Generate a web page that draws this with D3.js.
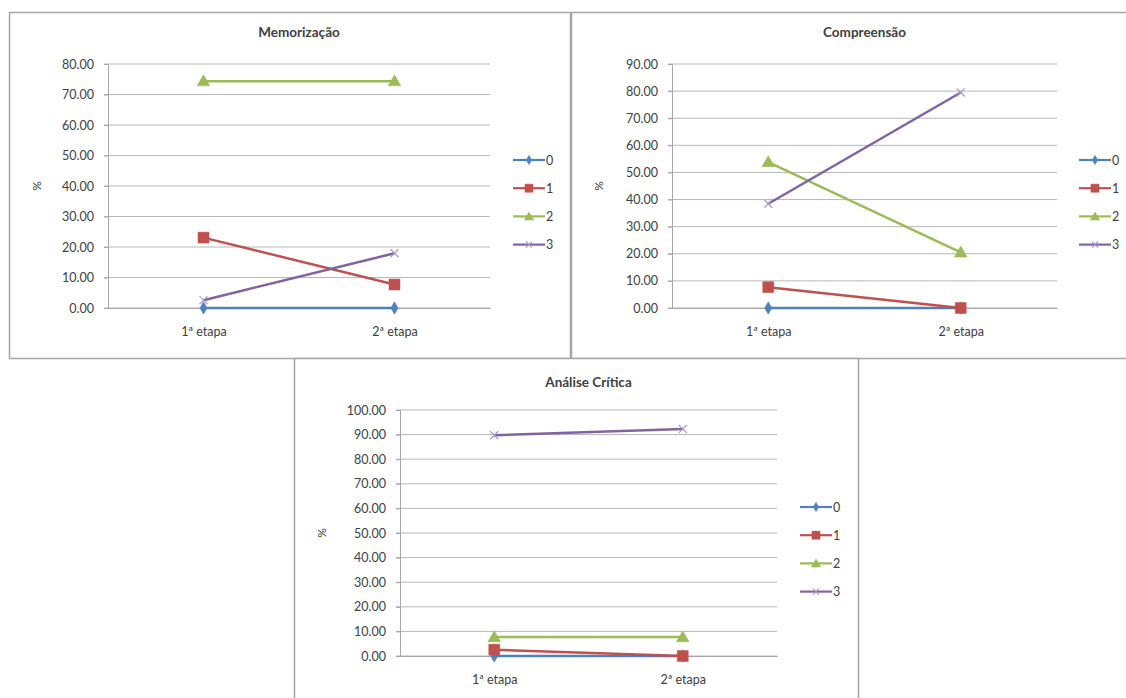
<!DOCTYPE html>
<html>
<head>
<meta charset="utf-8">
<script src="https://cdn.jsdelivr.net/npm/d3@7"></script>
<style>
  body { margin: 0; background: #fff; }
  svg { display: block; }
  text { font-family: Lato, "Open Sans", "Liberation Sans", sans-serif; fill: #404040; }
</style>
</head>
<body>
<svg id="chart" width="1126" height="698"></svg>
<script>
// ---- DATA ----
const categories = ["1ª etapa", "2ª etapa"];
const seriesNames = ["0", "1", "2", "3"];

const memoTitle = "Memorização";
const memoTicks = [0, 10, 20, 30, 40, 50, 60, 70, 80];
const memo0 = [0, 0];
const memo1 = [23.08, 7.69];
const memo2 = [74.36, 74.36];
const memo3 = [2.56, 17.95];

const compTitle = "Compreensão";
const compTicks = [0, 10, 20, 30, 40, 50, 60, 70, 80, 90];
const comp0 = [0, 0];
const comp1 = [7.69, 0];
const comp2 = [53.85, 20.51];
const comp3 = [38.46, 79.49];

const anaTitle = "Análise Crítica";
const anaTicks = [0, 10, 20, 30, 40, 50, 60, 70, 80, 90, 100];
const ana0 = [0, 0];
const ana1 = [2.56, 0];
const ana2 = [7.69, 7.69];
const ana3 = [89.74, 92.31];

const yLabel = "%";

// ---- STYLE / LAYOUT ----
const colors = ["#4F81BD", "#C0504D", "#9BBB59", "#8064A2"];
const svg = d3.select("#chart");

const panels = [
  { title: memoTitle, ticks: memoTicks, series: [memo0, memo1, memo2, memo3],
    frame: [9, 12, 561, 346], plot: [108, 64, 490, 308], titleY: 37, legendX: 513, legendY: 160 },
  { title: compTitle, ticks: compTicks, series: [comp0, comp1, comp2, comp3],
    frame: [571, 12, 560, 346], plot: [672, 64, 1057, 308], titleY: 37, legendX: 1079, legendY: 160 },
  { title: anaTitle, ticks: anaTicks, series: [ana0, ana1, ana2, ana3],
    frame: [294, 358, 564, 345], plot: [400, 410, 777, 656], titleY: 387, legendX: 800, legendY: 507 }
];

function marker(g, i, x, y, k) {
  const c = colors[i];
  if (i === 0) {
    g.append("path").attr("d", d3.symbol(d3.symbolDiamond, 45 * k)())
      .attr("transform", `translate(${x},${y})`).attr("fill", c).attr("stroke", c).attr("stroke-width", 0.5);
  } else if (i === 1) {
    g.append("path").attr("d", d3.symbol(d3.symbolSquare, 120 * k)())
      .attr("transform", `translate(${x},${y})`).attr("fill", c).attr("stroke", c).attr("stroke-width", 0.5);
  } else if (i === 2) {
    g.append("path").attr("d", d3.symbol(d3.symbolTriangle, 70 * k)())
      .attr("transform", `translate(${x},${y + 1})`).attr("fill", c).attr("stroke", c).attr("stroke-width", 0.5);
  } else {
    const r = 4 * Math.sqrt(k);
    g.append("path").attr("d", `M${-r},${-r}L${r},${r}M${-r},${r}L${r},${-r}`)
      .attr("transform", `translate(${x},${y})`).attr("fill", "none").attr("stroke", "#a898c8").attr("stroke-width", 1.2);
  }
}

panels.forEach(p => {
  const g = svg.append("g");
  const [fx, fy, fw, fh] = p.frame;
  g.append("rect").attr("x", fx + 0.5).attr("y", fy + 0.5).attr("width", fw).attr("height", fh)
    .attr("fill", "#fff").attr("stroke", "#a6a6a6").attr("stroke-width", 1.5);

  const [x0, y0, x1, y1] = p.plot;
  const x = d3.scalePoint().domain(categories).range([x0, x1]).padding(0.5);
  const y = d3.scaleLinear().domain([0, d3.max(p.ticks)]).range([y1, y0]);

  // gridlines
  g.append("g").selectAll("line").data(p.ticks).join("line")
    .attr("x1", x0 - 4).attr("x2", x1).attr("y1", d => y(d)).attr("y2", d => y(d))
    .attr("stroke", "#b7b7b7").attr("stroke-width", 1);

  // y axis
  const yAxis = d3.axisLeft(y).tickValues(p.ticks).tickFormat(d3.format(".2f")).tickSize(4).tickPadding(10);
  const ya = g.append("g").attr("transform", `translate(${x0},0)`).call(yAxis);
  ya.select(".domain").attr("stroke", "#a6a6a6");
  ya.selectAll(".tick line").attr("stroke", "#a6a6a6");
  ya.selectAll("text").attr("font-size", 12.5).attr("fill", "#404040")
    .style("font-family", "Lato, 'Open Sans', sans-serif");

  // x axis
  const xAxis = d3.axisBottom(x).tickSize(0).tickPadding(19);
  const xa = g.append("g").attr("transform", `translate(0,${y1})`).call(xAxis);
  xa.select(".domain").attr("stroke", "#a6a6a6");
  xa.selectAll("text").attr("font-size", 12.5).attr("fill", "#404040")
    .style("font-family", "Lato, 'Open Sans', sans-serif");

  // title
  g.append("text").attr("x", (x0 + x1) / 2).attr("y", p.titleY).attr("text-anchor", "middle")
    .attr("font-size", 13.5).attr("font-weight", "bold").attr("fill", "#222").text(p.title);

  // y label
  g.append("text").attr("transform", `translate(${fx + 32},${(y0 + y1) / 2}) rotate(-90)`)
    .attr("text-anchor", "middle").attr("font-size", 12).text(yLabel);

  // lines
  const line = d3.line().x((d, i) => x(categories[i])).y(d => y(d));
  p.series.forEach((s, i) => {
    g.append("path").datum(s).attr("d", line).attr("fill", "none")
      .attr("stroke", colors[i]).attr("stroke-width", 2.5);
  });
  p.series.forEach((s, i) => {
    s.forEach((v, j) => marker(g, i, x(categories[j]), y(v), 1));
  });

  // legend
  seriesNames.forEach((n, i) => {
    const ly = p.legendY + i * 28.2;
    g.append("line").attr("x1", p.legendX).attr("x2", p.legendX + 32).attr("y1", ly).attr("y2", ly)
      .attr("stroke", colors[i]).attr("stroke-width", 2.2);
    marker(g, i, p.legendX + 16, ly, 0.55);
    g.append("text").attr("x", p.legendX + 33).attr("y", ly + 4.5).attr("font-size", 12.5).text(n);
  });
});
</script>
</body>
</html>
